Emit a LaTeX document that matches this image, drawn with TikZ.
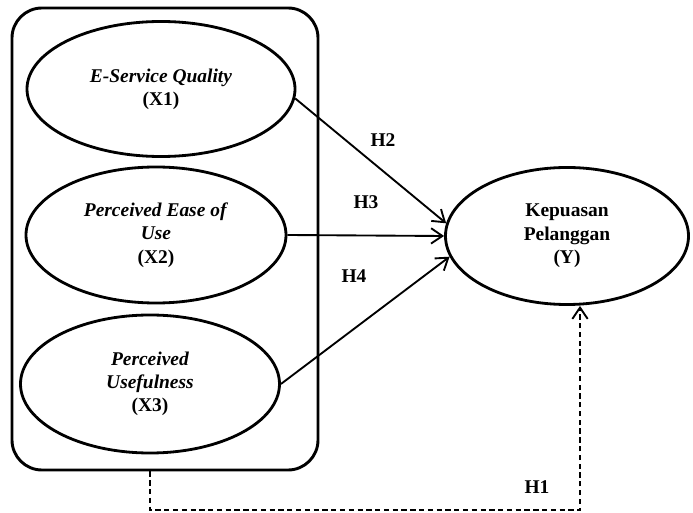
\documentclass[tikz,border=0pt]{standalone}
\usepackage{fontspec}
\setmainfont{Liberation Serif}
\usetikzlibrary{arrows.meta,shapes.geometric}

\begin{document}
\begin{tikzpicture}[
    x=0.03cm, y=-0.03cm,
    >={Straight Barb[length=3.4mm,width=4.6mm]},
    construct/.style={
        ellipse,
        draw,
        line width=2.4pt,
        inner sep=0pt,
        minimum width=#1,
        minimum height=4.08cm,
        font=\fontsize{16.6}{19.9}\selectfont\bfseries,
        align=center
    },
    construct/.default=8cm,
    hypo/.style={
        ->,
        line width=1.6pt
    },
    hypolabel/.style={
        font=\fontsize{16.6}{19.9}\selectfont\bfseries,
        inner sep=1pt
    }
]

\useasboundingbox (0,0) rectangle (693,513);

% Independent variables grouped in one rounded frame
\node[draw, line width=2.5pt, rounded corners=0.9cm, minimum width=9.18cm, minimum height=13.86cm] (box) at (165,239) {};

\node[construct=8.04cm, minimum height=4.05cm] (x1) at (161,89)  {\textit{E-Service Quality}\\(X1)};
\node[construct=7.8cm]                         (x2) at (156,235) {\textit{Perceived Ease of}\\\textit{Use}\\(X2)};
\node[construct=7.77cm, minimum height=4.14cm] (x3) at (150,384) {\textit{Perceived}\\\textit{Usefulness}\\(X3)};

% Dependent variable
\node[construct=7.29cm, minimum height=4.11cm] (y) at (567,236) {Kepuasan\\Pelanggan\\(Y)};

% Partial hypotheses
\draw[hypo] (x1.-4) -- (y.174);
\draw[hypo] (x2.east) -- (y.west);
\draw[hypo] (x3.east) -- (y.190);

\node[hypolabel] (h2) at (383,140) {H2};
\node[hypolabel] (h3) at (366,202) {H3};
\node[hypolabel] (h4) at (354,276) {H4};

% Simultaneous hypothesis
\coordinate (turn) at (580,510);
\draw[->, line width=1.6pt, dash pattern=on 4.5pt off 3pt] (box.south -| x3) |- (turn) -- (turn |- y.south);
\node[hypolabel] (h1) at (537,487) {H1};

\end{tikzpicture}
\end{document}
